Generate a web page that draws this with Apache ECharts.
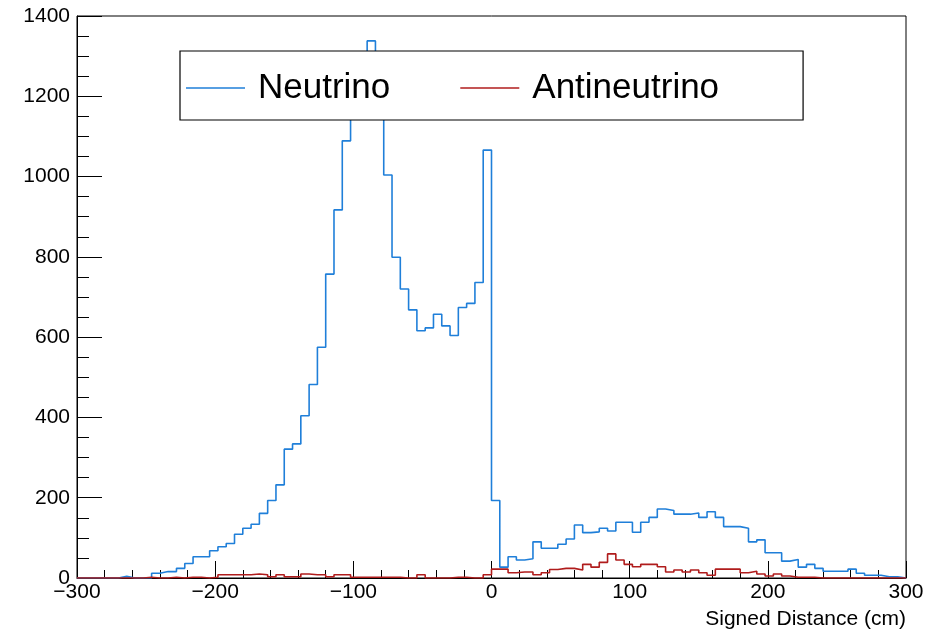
<!DOCTYPE html>
<html>
<head>
<meta charset="utf-8">
<script src="https://cdn.jsdelivr.net/npm/echarts@6/dist/echarts.min.js"></script>
<style>
html,body{margin:0;padding:0;background:#fff;}
#chart{width:950px;height:631px;}
</style>
</head>
<body>
<div id="chart"></div>
<script>
// Histogram definition: 100 bins of 6 cm from -300 to 300
const binStart = -300;
const binWidth = 6;
const seriesNames = ['Neutrino', 'Antineutrino'];
const neutrino = [
  0, 0, 0, 0, 0, 4, 0, 0, 0, 12,
  16, 16, 24, 36, 53, 53, 68, 78, 86, 109,
  124, 134, 161, 193, 232, 321, 334, 404, 482, 575,
  757, 917, 1089, 1200, 1270, 1338, 1230, 1004, 799, 720,
  668, 616, 623, 657, 628, 604, 674, 684, 736, 1066,
  193, 27, 53, 45, 48, 90, 74, 74, 84, 97,
  132, 113, 115, 124, 117, 139, 139, 114, 139, 151,
  172, 168, 159, 159, 162, 151, 165, 151, 128, 128,
  124, 90, 95, 63, 63, 42, 46, 27, 34, 24,
  17, 17, 17, 22, 12, 7, 7, 3, 3, 0
];
const antineutrino = [
  0, 0, 0, 0, 0, 0, 0, 0, 2, 0,
  0, 2, 0, 2, 2, 0, 2, 8, 8, 8,
  8, 10, 8, 3, 8, 3, 3, 10, 8, 8,
  3, 8, 8, 2, 2, 2, 2, 2, 2, 0,
  0, 8, 0, 0, 0, 2, 2, 0, 0, 8,
  22, 22, 13, 15, 15, 8, 13, 21, 24, 24,
  20, 34, 27, 39, 60, 45, 34, 28, 34, 34,
  28, 15, 20, 15, 20, 13, 7, 22, 22, 22,
  13, 17, 10, 5, 10, 5, 2, 2, 2, 0,
  0, 0, 0, 0, 0, 0, 0, 0, 0, 0
];
const xTicks = [-300, -200, -100, 0, 100, 200, 300];
const yTicks = [0, 200, 400, 600, 800, 1000, 1200, 1400];
const xTitle = 'Signed Distance (cm)';

function toSteps(vals) {
  const pts = vals.map((v, i) => [binStart + i * binWidth, v]);
  pts.push([binStart + vals.length * binWidth, vals[vals.length - 1]]);
  return pts;
}

const FONT = 'Liberation Sans';
const chart = echarts.init(document.getElementById('chart'), null, {renderer: 'canvas'});
chart.setOption({
  animation: false,
  backgroundColor: '#fff',
  textStyle: {fontFamily: FONT},
  grid: {
    left: 77, right: 44, top: 16, bottom: 53,
    show: true, borderColor: '#000', borderWidth: 1, backgroundColor: 'transparent'
  },
  legend: {
    left: 180, top: 51,
    orient: 'horizontal',
    backgroundColor: '#fff',
    borderColor: '#000', borderWidth: 1.2,
    padding: [17, 84, 12, 6],
    itemGap: 70,
    itemWidth: 59, itemHeight: 1.5,
    icon: 'rect',
    textStyle: {fontFamily: FONT, fontSize: 35, color: '#000', lineHeight: 40, padding: [0, 0, 0, 8]},
    data: seriesNames
  },
  xAxis: {
    type: 'value',
    min: xTicks[0], max: xTicks[xTicks.length - 1], interval: 100,
    name: xTitle,
    nameLocation: 'end',
    nameGap: 0,
    nameTextStyle: {fontFamily: FONT, fontSize: 21, color: '#000', align: 'right', verticalAlign: 'top', padding: [31, 0, 0, 0]},
    axisLine: {show: true, onZero: false, lineStyle: {color: '#000', width: 1}},
    axisTick: {show: true, inside: true, length: 17, lineStyle: {color: '#000', width: 1}},
    minorTick: {show: true, splitNumber: 5, length: 8, lineStyle: {color: '#000', width: 1}},
    splitLine: {show: false},
    axisLabel: {
      fontFamily: FONT, fontSize: 21, color: '#000', margin: 4,
      formatter: v => String(v).replace('-', '\u2212')
    }
  },
  yAxis: {
    type: 'value',
    min: yTicks[0], max: yTicks[yTicks.length - 1], interval: 200,
    axisLine: {show: true, onZero: false, lineStyle: {color: '#000', width: 1}},
    axisTick: {show: true, inside: true, length: 25, lineStyle: {color: '#000', width: 1}},
    minorTick: {show: true, splitNumber: 4, length: 12, lineStyle: {color: '#000', width: 1}},
    splitLine: {show: false},
    axisLabel: {fontFamily: FONT, fontSize: 21, color: '#000', margin: 7, formatter: v => String(v)}
  },
  series: [
    {
      name: seriesNames[0], type: 'line', step: 'end', showSymbol: false,
      data: toSteps(neutrino),
      lineStyle: {color: '#1f7fd9', width: 1.6},
      itemStyle: {color: '#1f7fd9'}
    },
    {
      name: seriesNames[1], type: 'line', step: 'end', showSymbol: false,
      data: toSteps(antineutrino),
      lineStyle: {color: '#b01c1c', width: 1.6},
      itemStyle: {color: '#b01c1c'}
    }
  ]
});
</script>
</body>
</html>
